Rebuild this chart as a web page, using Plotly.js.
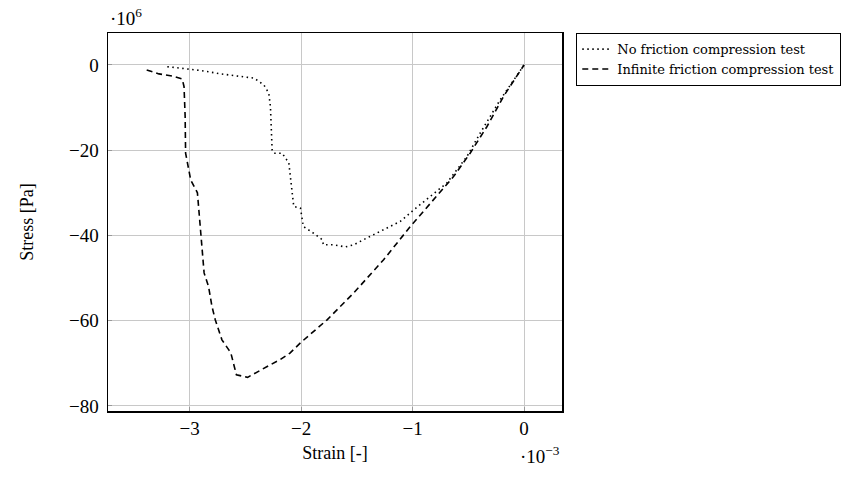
<!DOCTYPE html>
<html>
<head>
<meta charset="utf-8">
<script src="https://cdn.plot.ly/plotly-3.0.1.min.js"></script>
<style>html,body{margin:0;padding:0;background:#fff;}#chart{width:863px;height:482px;}</style>
</head>
<body>
<div id="chart"></div>
<script>
// Strain in 1e-3, stress in 1e6 Pa
const noFrictionStrain = [-3.20,-3.006,-2.90,-2.72,-2.54,-2.42,-2.334,-2.29,-2.275,-2.266,-2.26,-2.245,-2.17,-2.11,-2.096,-2.08,-2.066,-2.006,-1.98,-1.887,-1.81,-1.80,-1.707,-1.603,-1.528,-1.41,-1.26,-1.11,-0.99,-0.84,-0.693,-0.513,-0.394,-0.215,0];
const noFrictionStress = [-0.4,-1.0,-1.3,-2.1,-2.7,-3.1,-4.7,-6.6,-9.8,-14.5,-19.9,-20.7,-20.7,-23.0,-26.2,-30.0,-33.2,-33.6,-37.9,-39.5,-41.0,-42.2,-42.2,-42.7,-42.2,-40.6,-38.7,-36.7,-34.0,-30.9,-27.7,-21.5,-16.0,-8.2,0];
const infFrictionStrain = [-3.385,-3.275,-3.155,-3.066,-3.05,-3.04,-3.036,-2.99,-2.93,-2.90,-2.87,-2.83,-2.80,-2.77,-2.71,-2.65,-2.63,-2.60,-2.58,-2.48,-2.39,-2.30,-2.185,-2.10,-2.006,-1.767,-1.528,-1.26,-1.02,-0.812,-0.633,-0.484,-0.334,-0.185,0];
const infFrictionStress = [-1.17,-2.1,-2.6,-3.3,-5.1,-12.1,-20.7,-27.0,-30.0,-39.5,-48.8,-52.0,-56.6,-59.8,-64.5,-66.8,-67.6,-70.7,-72.7,-73.3,-71.9,-70.7,-69.1,-67.6,-65.2,-59.8,-53.5,-45.7,-37.9,-31.6,-26.2,-20.7,-14.5,-7.4,0];
const seriesNames = ["No friction compression test","Infinite friction compression test"];
const xTicks = [-3,-2,-1,0];
const yTicks = [0,-20,-40,-60,-80];

const serif = "Liberation Serif, DejaVu Serif, serif";
const fmt = v => v < 0 ? "\u2212" + Math.abs(v) : String(v);
const traces = [
  {x: noFrictionStrain, y: noFrictionStress, name: seriesNames[0], mode: "lines",
   line: {color: "#000", width: 1.6, dash: "1.5px,3.5px"}},
  {x: infFrictionStrain, y: infFrictionStress, name: seriesNames[1], mode: "lines",
   line: {color: "#000", width: 1.6, dash: "6px,4px"}}
];
const axisCommon = {
  showline: true, linecolor: "#000", linewidth: 1.5, mirror: true,
  showgrid: true, gridcolor: "#c8c8c8", gridwidth: 1,
  zeroline: false, ticks: "inside", ticklen: 4, tickcolor: "#999",
  tickfont: {family: serif, size: 19, color: "#000"}
};
const layout = {
  width: 863, height: 482,
  margin: {l: 108, r: 301, t: 33, b: 71},
  paper_bgcolor: "#fff", plot_bgcolor: "#fff",
  showlegend: true,
  legend: {x: 1.031, y: 1.0, xanchor: "left", yanchor: "top",
    bordercolor: "#000", borderwidth: 1.2, bgcolor: "#fff",
    font: {family: "DejaVu Serif, serif", size: 13, color: "#000"}, tracegroupgap: 4},
  xaxis: Object.assign({}, axisCommon, {
    range: [-3.732, 0.34], tickvals: xTicks, ticktext: xTicks.map(fmt),
    title: {text: "Strain [-]", font: {family: serif, size: 18, color: "#000"}, standoff: 8}
  }),
  yaxis: Object.assign({}, axisCommon, {
    range: [-81.2, 7.5], tickvals: yTicks, ticktext: yTicks.map(fmt), ticklabelstandoff: 4,
    title: {text: "Stress [Pa]", font: {family: serif, size: 18, color: "#000"}, standoff: 30}
  }),
  annotations: [
    {text: "\u00b710<sup>6</sup>", xref: "paper", yref: "paper", x: 0, y: 1, xanchor: "left", yanchor: "bottom",
     yshift: 2, xshift: 0, showarrow: false, font: {family: serif, size: 19, color: "#000"}},
    {text: "\u00b710<sup>\u22123</sup>", xref: "paper", yref: "paper", x: 1, y: 0, xanchor: "right", yanchor: "top",
     yshift: -30, xshift: 0, showarrow: false, font: {family: serif, size: 19, color: "#000"}}
  ]
};
Plotly.newPlot("chart", traces, layout, {displayModeBar: false, staticPlot: true});
</script>
</body>
</html>
